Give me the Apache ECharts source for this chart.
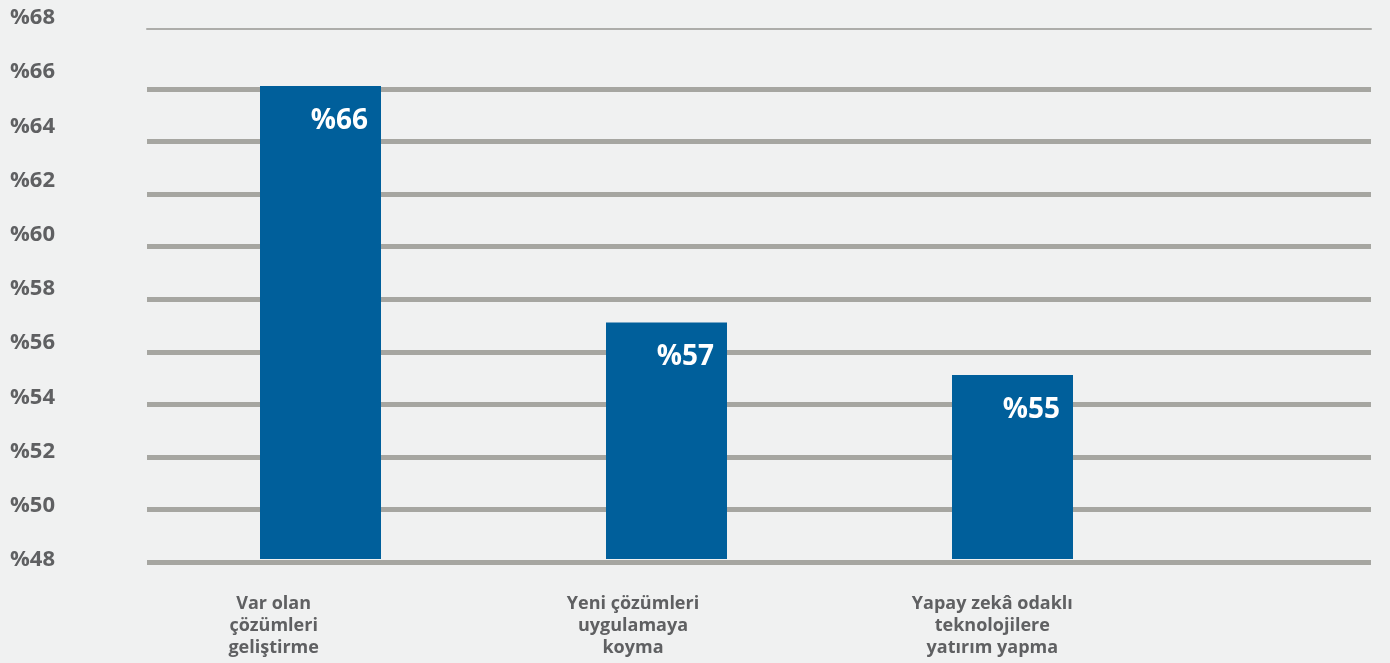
<!DOCTYPE html>
<html>
<head>
<meta charset="utf-8">
<script src="https://cdn.jsdelivr.net/npm/echarts@6/dist/echarts.min.js"></script>
<style>
  html, body { margin: 0; padding: 0; background: #f0f1f1; }
  #chart { width: 1390px; height: 663px; }
</style>
</head>
<body>
<div id="chart"></div>
<script>
// data
const categories = [
  "Var olan\nçözümleri\ngeliştirme",
  "Yeni çözümleri\nuygulamaya\nkoyma",
  "Yapay zekâ odaklı\nteknolojilere\nyatırım yapma"
];
const values = [66, 57, 55];
const yMin = 48;
const yMax = 68;
const yStep = 2;

const textColor = "#5f6062";
const font = "'Open Sans', 'Noto Sans', sans-serif";

const chart = echarts.init(document.getElementById("chart"));
chart.setOption({
  backgroundColor: "#f0f1f1",
  animation: false,
  grid: [
    // tick labels (y) and category labels (x)
    { left: 94, width: 1078, top: 18, bottom: 103, outerBoundsMode: "none" },
    // horizontal rules
    { left: 147, right: 19, top: 89, bottom: 101, outerBoundsMode: "none" },
    // bars (a 4th empty slot sets the spacing)
    { left: 147.5, width: 1384, top: 86, bottom: 104, outerBoundsMode: "none" }
  ],
  xAxis: [
    {
      gridIndex: 0,
      type: "category",
      data: categories,
      axisLine: { show: false },
      axisTick: { show: false },
      axisLabel: {
        interval: 0,
        margin: 33,
        color: textColor,
        fontFamily: font,
        fontWeight: "bold",
        fontSize: 18,
        lineHeight: 22
      }
    },
    {
      gridIndex: 1,
      type: "value",
      position: "top",
      offset: 60,
      axisLine: { show: true, lineStyle: { color: "#adadaa", width: 2 } },
      axisTick: { show: false },
      axisLabel: { show: false },
      splitLine: { show: false }
    },
    {
      gridIndex: 2,
      type: "category",
      data: categories.concat([""]),
      show: false
    }
  ],
  yAxis: [
    {
      gridIndex: 0,
      type: "value",
      min: yMin,
      max: yMax,
      interval: yStep,
      axisLine: { show: false },
      axisTick: { show: false },
      splitLine: { show: false },
      axisLabel: {
        formatter: "%{value}",
        align: "left",
        margin: 84,
        color: textColor,
        fontFamily: font,
        fontWeight: "bold",
        fontSize: 22
      }
    },
    {
      gridIndex: 1,
      type: "value",
      min: yMin,
      max: 66,
      interval: yStep,
      axisLine: { show: false },
      axisTick: { show: false },
      axisLabel: { show: false },
      splitLine: { show: true, lineStyle: { color: "#a6a6a1", width: 5 } }
    },
    {
      gridIndex: 2,
      type: "value",
      min: yMin,
      max: 66,
      show: false
    }
  ],
  series: [
    {
      type: "bar",
      xAxisIndex: 2,
      yAxisIndex: 2,
      data: values,
      barWidth: 121,
      itemStyle: { color: "#005f9b" },
      label: {
        show: true,
        position: "insideTopRight",
        distance: 13,
        offset: [0, 8],
        formatter: "%{c}",
        color: "#ffffff",
        fontFamily: font,
        fontWeight: "bold",
        fontSize: 28
      }
    }
  ]
});
</script>
</body>
</html>
